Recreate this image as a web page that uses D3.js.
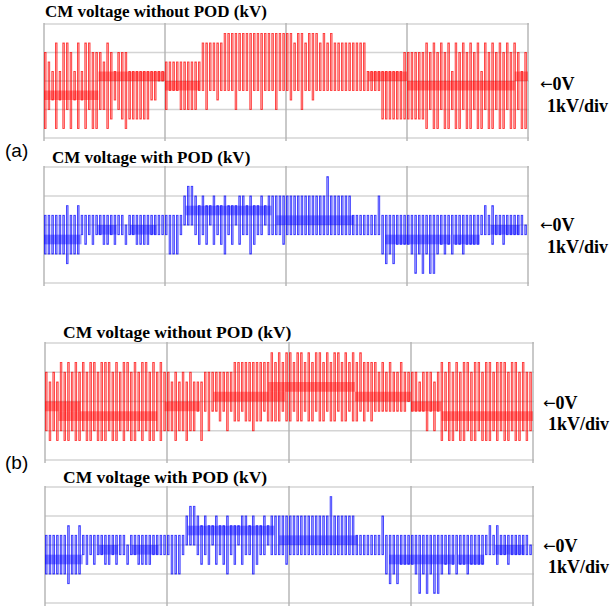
<!DOCTYPE html>
<html><head><meta charset="utf-8">
<script src="https://cdn.jsdelivr.net/npm/d3@7"></script>
<style>body{margin:0;background:#fff}svg{display:block}</style>
</head><body>
<svg id="c" width="614" height="607"></svg>
<script>
// ---------------- data ----------------
const titles = ["CM voltage without POD (kV)", "CM voltage with POD (kV)", "CM voltage without POD (kV)", "CM voltage with POD (kV)"];
const groupLabels = ["(a)", "(b)"];
const arrowLabel = "\u2190";
const zeroLabel = "0V";
const divLabel = "1kV/div";
// y levels in units of 1/3 kV (grid = 1 kV = 3 units), x in grid divisions (0..4)
const yGridLevels = [-6, -3, 0, 3, 6];
const xGridDivs = [0, 1, 2, 3, 4];

// each pulse: [high level, low level]
const pulsesA_noPOD = [
 [3,-5],[2,-3],[1,-2],[4,-5],[1,-2],[4,-5],[4,-3],[3,-5],[1,-2],[4,-5],[1,-2],[4,-5],[4,-3],[3,-5],[3,-5],[3,-3],[2,-3],[4,-5],[3,-4],[1,-2],[3,-3],[3,-4],[3,-5],[1,-4],[1,-4],[1,-4],[1,-4],[1,-4],[1,-4],[1,-2],[1,-2],[1,0],[1,0],
 [2,-3],[2,-1],[2,-1],[2,-1],[2,-3],[2,-3],[2,-3],[2,-3],[2,-3],[2,-1],[4,-1],[4,-3],[4,-1],[4,-1],[4,-2],[4,-1],[5,-1],[5,-1],[5,-1],[5,-3],[5,-1],[5,-1],[5,-1],[5,-3],[5,-1],[5,-1],[5,-3],[5,-1],[5,-1],[5,-1],[5,-3],[5,-1],[5,-1],
 [5,-1],[5,-2],[4,-1],[5,-1],[5,-3],[4,-1],[5,-1],[5,-2],[5,-1],[4,-1],[5,-1],[4,-1],[5,-1],[4,-1],[4,-1],[4,-1],[4,-1],[4,-1],[4,-1],[4,-1],[4,-1],[4,-1],[1,-1],[1,-1],[1,-1],[1,-1],[1,-4],[1,-4],[1,-4],[1,-4],[1,-4],[1,-4],[3,-4],
 [3,-4],[3,-4],[3,-4],[3,-4],[3,-4],[4,-5],[3,-3],[4,-5],[3,-5],[4,-3],[3,-5],[4,-5],[1,-3],[4,-5],[3,-5],[4,-3],[3,-5],[4,-5],[3,-3],[4,-5],[1,-5],[4,-3],[3,-5],[4,-5],[3,-3],[4,-5],[3,-5],[4,-3],[3,-5],[4,-5],[3,-3],[1,-5],[3,-5]
];
// dense bands: [from div, to div, low level, high level]
const bandsA_noPOD = [[0,0.45,-2,-1],[0.45,1.0,0,1],[1.0,1.29,-1,0],[2.68,3.0,0,1],[3.0,3.89,-1,0],[3.89,4.0,0,1]];

const pulsesA_POD = [
 [1,-3],[1,-3],[1,-3],[1,-3],[1,-3],[1,-3],[2,-4],[1,-3],[1,-3],[2,-3],[1,-1],[1,-2],[1,-1],[1,-2],[1,-1],[1,-1],[1,-2],[1,-2],[1,-1],[1,-2],[1,-1],[1,-1],[0,-2],[1,-1],[1,-1],[1,-2],[1,-2],[1,-2],[1,-2],[1,-1],[1,-1],[1,-1],[1,-1],
 [1,-1],[1,-3],[1,-3],[1,-3],[1,-1],[3,0],[4,0],[4,0],[3,-1],[2,-2],[3,-1],[2,-2],[2,0],[3,-2],[2,-1],[2,-2],[3,-3],[2,-1],[2,-2],[2,0],[3,-2],[3,-1],[2,-1],[3,-3],[2,-2],[2,-1],[3,-1],[2,0],[3,-1],[3,-1],[3,-1],[3,-1],[3,-2],
 [3,-1],[3,-1],[3,-1],[3,-1],[3,-1],[3,-1],[3,-1],[3,-1],[3,-1],[3,-1],[3,-1],[5,-1],[3,-1],[3,-1],[3,-1],[3,-1],[3,-1],[3,-1],[1,-1],[1,-1],[1,-1],[1,-1],[1,-1],[1,-1],[1,-1],[3,-1],[1,-3],[1,-4],[1,-3],[1,-4],[1,-2],[1,-2],[1,-2],
 [1,-2],[1,-3],[1,-5],[1,-3],[1,-5],[1,-3],[1,-5],[1,-5],[1,-3],[1,-2],[1,-3],[1,-2],[1,-3],[1,-2],[1,-2],[1,-3],[1,-2],[1,-2],[1,-2],[1,-2],[1,-1],[2,-1],[1,-1],[2,-2],[1,-1],[1,-1],[1,-2],[1,-1],[1,-1],[1,-1],[1,-1],[1,-1],[0,-1]
];
const bandsA_POD = [[0,0.31,-2,-1],[0.44,0.6,-1,0],[0.71,0.93,-1,0],[1.17,1.88,1,2],[1.92,2.56,0,1],[2.82,3.36,-2,-1],[3.38,3.6,-2,-1],[3.69,3.93,-1,0]];

const pulsesB_noPOD = [
 [3,-3],[2,-4],[3,-3],[2,-4],[4,-3],[3,-4],[4,-4],[3,-3],[4,-4],[3,-4],[4,-3],[3,-4],[4,-4],[4,-3],[3,-4],[4,-4],[4,-4],[4,-3],[3,-4],[4,-4],[3,-3],[4,-4],[4,-3],[3,-4],[4,-4],[3,-3],[4,-4],[4,-3],[3,-4],[4,-4],[3,-3],[4,-4],[3,-3],
 [3,-3],[2,-3],[3,-4],[2,-3],[3,-3],[2,-4],[3,-3],[2,-3],[2,-1],[2,-4],[3,-1],[3,-3],[3,-1],[3,-1],[3,-2],[3,-1],[3,-3],[3,-1],[4,-2],[4,-2],[4,-1],[4,-2],[4,-2],[4,-3],[4,-2],[4,-2],[4,-1],[4,-2],[5,-2],[4,-2],[5,-2],[4,-1],[5,-2],
 [5,-2],[4,-1],[5,-2],[5,-2],[4,-1],[5,-2],[4,-2],[5,-1],[5,-2],[4,-2],[5,-1],[4,-2],[5,-2],[5,-1],[4,-2],[5,-2],[4,-1],[5,-2],[4,-2],[5,-1],[4,-2],[4,-1],[4,-2],[4,-1],[3,-1],[4,-1],[3,-1],[4,-1],[3,-1],[3,-1],[4,-1],[3,-1],[3,0],
 [3,-1],[3,-1],[2,-1],[3,-1],[3,-3],[3,-1],[2,-3],[3,-1],[4,-4],[3,-3],[4,-4],[3,-4],[4,-3],[3,-4],[4,-4],[4,-3],[3,-4],[4,-4],[4,-3],[3,-4],[4,-4],[4,-4],[3,-3],[4,-4],[4,-3],[4,-4],[3,-4],[4,-3],[4,-4],[3,-4],[4,-3],[3,-4],[3,-3]
];
const bandsB_noPOD = [[0,0.29,-1,0],[0.11,0.92,-2,-1],[0.98,1.27,-1,0],[1.38,1.97,0,1],[1.83,2.54,1,2],[2.54,3.0,0,1],[3.0,3.25,-1,0],[3.25,4.0,-2,-1]];

const pulsesB_POD = pulsesA_POD.map(p => p.slice());
const bandsB_POD = bandsA_POD.map(b => b.slice());

// ---------------- layout ----------------
const layout = [
  {pulses: pulsesA_noPOD, bands: bandsA_noPOD, color: "#ff0000", x0: 44, x1: 528, top: 24, bottom: 138, titleX: 45, titleY: 17, titleSize: 17, zeroX: 540, zeroY: 90, divX: 547, divY: 112},
  {pulses: pulsesA_POD, bands: bandsA_POD, color: "#0000ff", x0: 44, x1: 528, top: 167, bottom: 283, titleX: 52, titleY: 163, titleSize: 17, zeroX: 540, zeroY: 231, divX: 547, divY: 253},
  {pulses: pulsesB_noPOD, bands: bandsB_noPOD, color: "#ff0000", x0: 45, x1: 533, top: 343, bottom: 460, titleX: 63, titleY: 338, titleSize: 17.5, zeroX: 543, zeroY: 409, divX: 548, divY: 430},
  {pulses: pulsesB_POD, bands: bandsB_POD, color: "#0000ff", x0: 45, x1: 533, top: 487, bottom: 603, titleX: 63, titleY: 483, titleSize: 17.5, zeroX: 543, zeroY: 552, divX: 548, divY: 573}
];

const svg = d3.select("#c");
const serif = "'Liberation Serif','Times New Roman',serif";

layout.forEach((P, k) => {
  const xs = d3.scaleLinear().domain([0, 4]).range([P.x0, P.x1]);
  const ys = d3.scaleLinear().domain([-6, 6]).range([P.bottom, P.top]);
  const g = svg.append("g");

  // grid
  g.selectAll("line.h").data(yGridLevels).join("line")
    .attr("x1", P.x0).attr("x2", P.x1 + 1)
    .attr("y1", d => ys(d)).attr("y2", d => ys(d))
    .attr("stroke", "#d4d4d4").attr("stroke-width", 1.3);
  g.selectAll("line.v").data(xGridDivs).join("line")
    .attr("x1", d => xs(d)).attr("x2", d => xs(d))
    .attr("y1", P.top - 1).attr("y2", P.bottom + 3)
    .attr("stroke", "#b2b2b2").attr("stroke-width", 1.4);

  // bands
  g.selectAll("rect.band").data(P.bands).join("rect")
    .attr("x", d => xs(d[0])).attr("width", d => xs(d[1]) - xs(d[0]))
    .attr("y", d => ys(d[3])).attr("height", d => ys(d[2]) - ys(d[3]))
    .attr("fill", P.color).attr("fill-opacity", 0.4);

  // pulses
  const N = P.pulses.length;
  const step = (xs(4) - xs(0)) / N;
  g.selectAll("rect.pulse").data(P.pulses).join("rect")
    .attr("x", (d, i) => xs(i * 4 / N) + 0.5)
    .attr("width", step * 0.42)
    .attr("y", d => ys(d[0]))
    .attr("height", d => ys(d[1]) - ys(d[0]))
    .attr("fill", P.color).attr("fill-opacity", 0.28)
    .attr("stroke", P.color).attr("stroke-opacity", 0.75).attr("stroke-width", 0.9);

  // texts
  svg.append("text").attr("x", P.titleX).attr("y", P.titleY)
    .attr("font-family", serif).attr("font-weight", "bold").attr("font-size", P.titleSize)
    .text(titles[k]);
  const z = svg.append("text").attr("x", P.zeroX).attr("y", P.zeroY)
    .attr("font-family", serif).attr("font-weight", "bold").attr("font-size", 18);
  z.append("tspan").attr("font-family", "'DejaVu Sans',sans-serif").attr("font-weight", "normal")
    .attr("font-size", 15).attr("dy", -1).text(arrowLabel);
  z.append("tspan").attr("dy", 1).text(zeroLabel);
  svg.append("text").attr("x", P.divX).attr("y", P.divY)
    .attr("font-family", serif).attr("font-weight", "bold").attr("font-size", 18)
    .text(divLabel);
});

svg.append("text").attr("x", 5).attr("y", 157)
  .attr("font-family", "'Liberation Sans',Arial,sans-serif").attr("font-size", 19).text(groupLabels[0]);
svg.append("text").attr("x", 5).attr("y", 469)
  .attr("font-family", "'Liberation Sans',Arial,sans-serif").attr("font-size", 19).text(groupLabels[1]);
</script>
</body></html>
